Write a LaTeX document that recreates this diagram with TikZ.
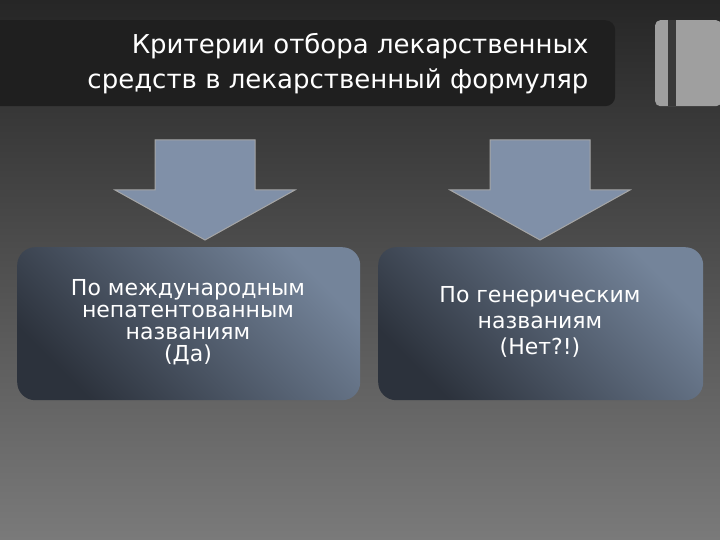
\documentclass[tikz,border=0pt]{standalone}
\usepackage{fontspec}
\setmainfont{DejaVu Sans}
\definecolor{bgtop}{HTML}{262626}
\definecolor{bgbot}{HTML}{7A7A7A}
\definecolor{arr}{HTML}{8090A8}
\definecolor{boxlight}{HTML}{74849A}
\definecolor{boxdark}{HTML}{2C323C}
\tikzset{
  arrowshape/.style={fill=arr, draw=gray!70, line width=1pt},
  critbox/.style={rounded corners=18pt, left color=boxlight, right color=boxdark,
    shading angle=-45, draw=none, inner sep=0pt},
  crittext/.style={text=white, align=center},
}
\begin{document}
\begin{tikzpicture}[x=1pt,y=-1pt]
\shade[top color=bgtop, bottom color=bgbot] (0,0) rectangle (720,540);
\useasboundingbox (0,0) rectangle (720,540);
\node[fill=black!88, rounded corners=10pt, minimum width=625pt, minimum height=86pt, anchor=north west] (title) at (-10,20) {};
\node[text=white, align=right, anchor=east, font=\fontsize{26}{35}\selectfont] (ttext) at (592,64) {Критерии отбора лекарственных\\средств в лекарственный формуляр};
\node[fill=gray!75, rounded corners=5pt, minimum width=66pt, minimum height=86pt, anchor=north west] (deco) at (655,20) {};
\node[fill=gray!45!black, minimum width=8pt, minimum height=86pt, anchor=north west] (bar) at (668,20) {};
\foreach \cx/\nm in {205/a1,540/a2}{
  \draw[arrowshape] (\cx-50,140) -- (\cx+50,140) -- (\cx+50,190) -- (\cx+90,190) -- (\cx,240) -- (\cx-90,190) -- (\cx-50,190) -- cycle;
}
\node[critbox, minimum width=343pt, minimum height=153pt, anchor=north west] (b1) at (17,247) {};
\node[crittext, font=\fontsize{22}{22}\selectfont] (t1) at (188,322) {По международным\\непатентованным\\названиям\\(Да)};
\node[critbox, minimum width=325pt, minimum height=153pt, anchor=north west] (b2) at (378,247) {};
\node[crittext, font=\fontsize{22}{26}\selectfont] (t2) at (540,322) {По генерическим\\названиям\\(Нет?!)};
\end{tikzpicture}
\end{document}
